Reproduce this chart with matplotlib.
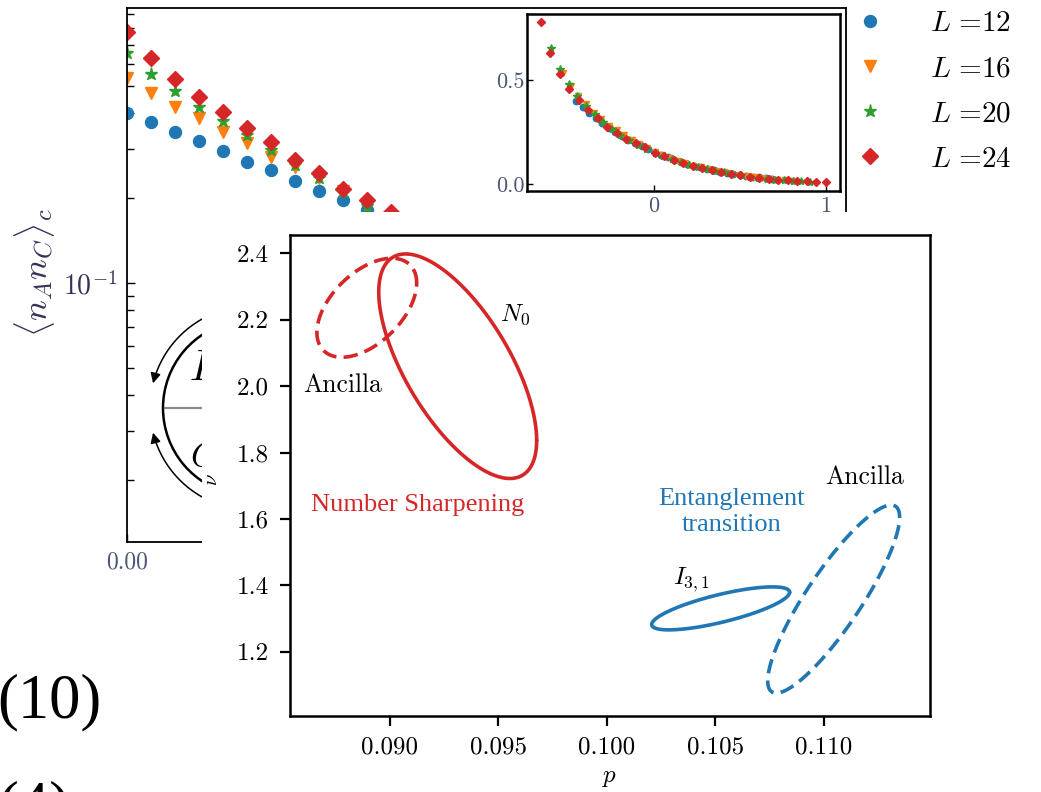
import numpy as np
import matplotlib
matplotlib.use('Agg')
import matplotlib.pyplot as plt
import matplotlib.ticker as mticker
from matplotlib.transforms import Affine2D
from matplotlib.patches import Rectangle, Arc, FancyArrowPatch
from matplotlib.path import Path
from matplotlib.lines import Line2D

plt.rcParams['mathtext.fontset'] = 'cm'
plt.rcParams['font.family'] = 'serif'
plt.rcParams['font.serif'] = ['cmr10', 'DejaVu Serif']
plt.rcParams['axes.formatter.use_mathtext'] = True

# ---------------- data ----------------
p_values = [0.00, 0.01, 0.02, 0.03, 0.04, 0.05, 0.06, 0.07, 0.08, 0.09, 0.10,
            0.11, 0.12, 0.13, 0.14, 0.15, 0.16, 0.17, 0.18, 0.19, 0.20,
            0.21, 0.22, 0.23, 0.24, 0.25, 0.26, 0.27, 0.28, 0.29, 0.30]
system_sizes = [12, 16, 20, 24]
corr_L12 = [0.401, 0.372, 0.343, 0.319, 0.294, 0.269, 0.252, 0.230, 0.212, 0.197, 0.182,
            0.167, 0.153, 0.140, 0.128, 0.116, 0.105, 0.095, 0.086, 0.079, 0.072,
            0.066, 0.059, 0.053, 0.048, 0.044, 0.039, 0.035, 0.031, 0.027, 0.024]
corr_L16 = [0.533, 0.472, 0.421, 0.385, 0.343, 0.313, 0.280, 0.258, 0.236, 0.212, 0.190,
            0.172, 0.152, 0.138, 0.124, 0.111, 0.099, 0.088, 0.079, 0.071, 0.063,
            0.056, 0.049, 0.044, 0.039, 0.034, 0.030, 0.025, 0.021, 0.018, 0.015]
corr_L20 = [0.655, 0.551, 0.480, 0.421, 0.375, 0.334, 0.297, 0.263, 0.235, 0.210, 0.188,
            0.170, 0.150, 0.136, 0.119, 0.105, 0.092, 0.081, 0.072, 0.064, 0.055,
            0.047, 0.042, 0.035, 0.030, 0.026, 0.021, 0.017, 0.014, 0.012, 0.010]
corr_L24 = [0.779, 0.630, 0.529, 0.457, 0.404, 0.356, 0.317, 0.274, 0.245, 0.216, 0.197,
            0.179, 0.149, 0.135, 0.115, 0.101, 0.087, 0.077, 0.067, 0.058, 0.048,
            0.041, 0.035, 0.030, 0.025, 0.021, 0.017, 0.014, 0.012, 0.010, 0.009]
series_labels = [r'$L\ $=12', r'$L\ $=16', r'$L\ $=20', r'$L\ $=24']
collapse_pc = 0.119
collapse_nu = 1.86

# confidence ellipses (p_c, nu) : centre, half-extent, correlation
ellipse_names = ['N0', 'Ancilla N0', 'I31', 'Ancilla I31']
ellipse_pc = [0.09313, 0.08894, 0.10525, 0.11046]
ellipse_nu = [2.060, 2.236, 1.331, 1.359]
ellipse_dp = [0.00364, 0.00230, 0.00318, 0.00304]
ellipse_dnu = [0.338, 0.149, 0.0647, 0.283]
ellipse_rho = [-0.66, 0.50, 0.75, 0.87]

RED = '#d62728'
BLUE = '#1f77b4'
series_colors = ['#1f77b4', '#ff7f0e', '#2ca02c', '#d62728']
series_markers = ['o', 'v', '*', 'D']
series_ms = [8.6, 9.2, 9.5, 8.4]
series_ms_small = [4.6, 5.0, 6.0, 4.0]
ellipse_colors = [RED, RED, BLUE, BLUE]
ellipse_ls = ['-', (0, (4, 2)), '-', (0, (4, 2))]

W, H = 1041, 792
fig = plt.figure(figsize=(W / 100, H / 100), dpi=100)
px = Affine2D().scale(1 / W, -1 / H).translate(0, 1) + fig.transFigure


def rect(l, t, r, b):
    return [l / W, 1 - b / H, (r - l) / W, (b - t) / H]


tick_grey = '#4b5675'

# ---------------- background panel ----------------
ax_bg = fig.add_axes(rect(127, 8, 846, 542), zorder=0)
all_series = [corr_L12, corr_L16, corr_L20, corr_L24]
handles = []
for vals, col, mk, ms, lab in zip(all_series, series_colors, series_markers, series_ms, series_labels):
    h, = ax_bg.plot(p_values, vals, ls='none', marker=mk, color=col, ms=ms, label=lab)
    handles.append(h)
ax_bg.set_yscale('log')
ax_bg.set_xlim(0, 0.3)
ax_bg.set_ylim(0.0121, 0.944)
ax_bg.set_xticks([0.0, 0.1, 0.2, 0.3])
ax_bg.xaxis.set_major_formatter(mticker.FormatStrFormatter('%.2f'))
ax_bg.yaxis.set_minor_formatter(mticker.NullFormatter())
ax_bg.tick_params(which='both', direction='in', width=1.0)
ax_bg.tick_params(which='major', length=6, labelsize=20, pad=7, labelcolor='#35305a')
ax_bg.tick_params(axis='x', labelsize=17, labelcolor=tick_grey)
ax_bg.tick_params(which='minor', length=5)
for s in ax_bg.spines.values():
    s.set_linewidth(1.3)
ax_bg.set_ylabel(r'$\langle n_A n_C\rangle_c$', fontsize=25, color='#35305a')
ax_bg.yaxis.set_label_coords(-0.098, 0.504)
ax_bg.legend(handles=handles, loc='upper left', bbox_to_anchor=(841 / W, 1 - 11 / H),
             bbox_transform=fig.transFigure, frameon=False, fontsize=21,
             handlelength=2, handletextpad=1.05, labelspacing=0.64,
             borderaxespad=0, borderpad=0, numpoints=1)

# ---------------- small collapse inset ----------------
ax_s = fig.add_axes(rect(527, 14, 840, 191), zorder=1)
for L, vals, col, mk, ms in zip(system_sizes, all_series, series_colors, series_markers, series_ms_small):
    xs = (np.array(p_values) - collapse_pc) * L ** (1 / collapse_nu)
    ax_s.plot(xs, vals, ls='none', marker=mk, color=col, ms=ms)
ax_s.set_xlim(-0.738, 1.081)
ax_s.set_ylim(-0.034, 0.817)
ax_s.set_xticks([0, 1])
ax_s.set_yticks([0.0, 0.5])
ax_s.xaxis.set_major_formatter(mticker.FormatStrFormatter('%d'))
ax_s.yaxis.set_major_formatter(mticker.FormatStrFormatter('%.1f'))
ax_s.tick_params(direction='in', length=4, width=1.0, labelsize=16, labelcolor=tick_grey)
ax_s.tick_params(axis='y', pad=2)
ax_s.tick_params(axis='x', pad=4)
for s in ax_s.spines.values():
    s.set_linewidth(1.8)

# ---------------- partial circle diagram (behind the pasted panel) ----------------
fig.add_artist(Arc((251, 408), 176, 176, theta1=100, theta2=260, transform=px,
                   color='black', lw=1.8, zorder=1.5))
fig.add_artist(Line2D([165, 210], [408, 408], transform=px, color='#8a8a8a', lw=1.6, zorder=1.5))
for a0, a1 in [(250, 194), (110, 166)]:
    th = np.deg2rad(np.linspace(a0, a1, 60))
    pts = np.column_stack([252 + 102 * np.cos(th), 408 + 102 * np.sin(th)])
    fig.add_artist(FancyArrowPatch(path=Path(pts), arrowstyle='-|>', mutation_scale=15,
                                   transform=px, color='black', lw=1.1, zorder=1.5))
fig.text(189, 380, r'$I$', transform=px, fontsize=30, zorder=1.5)
fig.text(190, 466, r'$C$', transform=px, fontsize=24, zorder=1.5)

# white background of the pasted panel
fig.add_artist(Rectangle((202, 212), W, H, transform=px, facecolor='white',
                         edgecolor='none', zorder=2))
fig.text(212, 480, r'$\nu$', transform=px, fontsize=15, rotation=90,
         ha='center', va='center', zorder=2.5)

# ---------------- main panel: confidence ellipses ----------------
ax = fig.add_axes(rect(290, 235, 930, 716), zorder=3)
t = np.linspace(0, 2 * np.pi, 600)
for cp, cn, dp, dn, r, col, ls in zip(ellipse_pc, ellipse_nu, ellipse_dp, ellipse_dnu,
                                      ellipse_rho, ellipse_colors, ellipse_ls):
    ax.plot(cp + dp * np.cos(t), cn + dn * (r * np.cos(t) + np.sqrt(1 - r * r) * np.sin(t)),
            color=col, lw=2.6, ls=ls, solid_capstyle='round', dash_capstyle='butt')
ax.set_xlim(0.0854, 0.1149)
ax.set_ylim(1.007, 2.455)
ax.set_xticks([0.090, 0.095, 0.100, 0.105, 0.110])
ax.set_yticks([1.2, 1.4, 1.6, 1.8, 2.0, 2.2, 2.4])
ax.xaxis.set_major_formatter(mticker.FormatStrFormatter('%.3f'))
ax.yaxis.set_major_formatter(mticker.FormatStrFormatter('%.1f'))
ax.tick_params(direction='out', length=7, width=1.6, labelsize=18, pad=8)
for s in ax.spines.values():
    s.set_linewidth(1.8)
ax.set_xlabel(r'$p$', fontsize=18, labelpad=6)

ax.text(0.09576, 2.2135, r'$N_0$', fontsize=18, ha='center', va='center')
ax.text(0.08783, 2.003, 'Ancilla', fontsize=18.5, ha='center', va='center')
ax.text(0.09129, 1.642, 'Number Sharpening', fontsize=19, color=RED, ha='center',
        va='center', family='Liberation Serif')
ax.text(0.10576, 1.621, 'Entanglement\ntransition', fontsize=19, color=BLUE, ha='center',
        va='center', family='Liberation Serif', linespacing=1.25)
ax.text(0.11189, 1.726, 'Ancilla', fontsize=18.5, ha='center', va='center')
ax.text(0.10392, 1.4165, r'$I_{3,1}$', fontsize=18, ha='center', va='center')

# equation numbers of the surrounding page
fig.text(-3, 717, '(10)', transform=px, fontsize=45, family='Liberation Serif',
         ha='left', va='baseline', zorder=3)
fig.text(-3, 824, '(4)', transform=px, fontsize=45, family='Liberation Serif',
         ha='left', va='baseline', zorder=3)

fig.savefig('out.png', dpi=100)
